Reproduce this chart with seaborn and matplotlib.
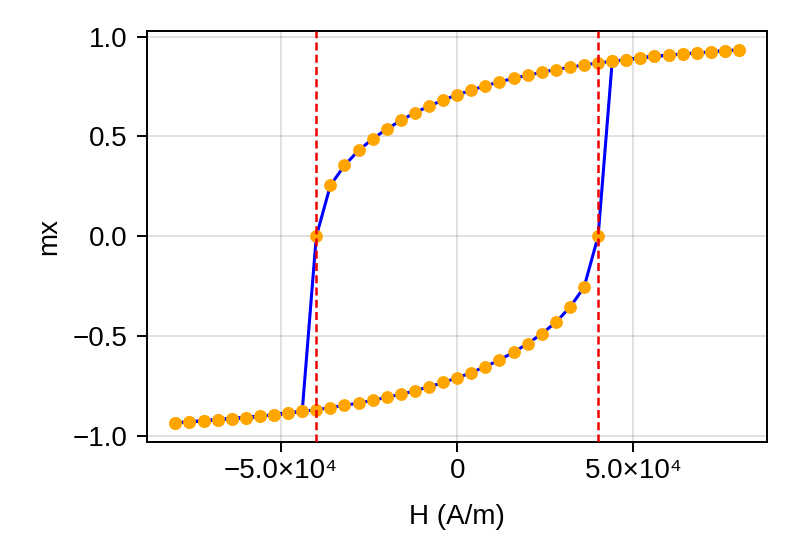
import numpy as np
import pandas as pd
import matplotlib
matplotlib.use('Agg')
import matplotlib.pyplot as plt
import seaborn as sns

sns.set_style('white')
plt.rcParams['font.family'] = ['Liberation Sans', 'DejaVu Sans']
plt.rcParams.update({'text.color': 'black', 'axes.labelcolor': 'black',
                     'xtick.color': 'black', 'ytick.color': 'black'})

# applied field grid (A/m)
H = np.arange(-80000, 80001, 4000)

# mx while sweeping H upwards (one value per H, ascending)
mx_up = [-0.933, -0.929, -0.923, -0.918, -0.913, -0.907, -0.901, -0.893, -0.885,
         -0.876, -0.868, -0.858, -0.846, -0.835, -0.821, -0.806, -0.791, -0.773,
         -0.754, -0.731, -0.709, -0.682, -0.652, -0.619, -0.580, -0.537, -0.488,
         -0.430, -0.355, -0.255, 0.0, 0.876, 0.885, 0.893, 0.901, 0.907, 0.913,
         0.918, 0.923, 0.929, 0.933]

# mx while sweeping H downwards (still listed for ascending H)
mx_down = [-0.933, -0.929, -0.923, -0.918, -0.913, -0.907, -0.901, -0.893, -0.885,
           -0.876, 0.0, 0.255, 0.355, 0.430, 0.488, 0.537, 0.580, 0.619, 0.652,
           0.682, 0.709, 0.731, 0.754, 0.773, 0.791, 0.806, 0.821, 0.835, 0.846,
           0.858, 0.868, 0.876, 0.885, 0.893, 0.901, 0.907, 0.913, 0.918, 0.923,
           0.929, 0.933]

Hc = [-40000, 40000]
xticks = [-50000, 0, 50000]
xticklabels = ['\u22125.0\u00d710\u2074', '0', '5.0\u00d710\u2074']
yticks = [-1.0, -0.5, 0.0, 0.5, 1.0]
yticklabels = ['\u22121.0', '\u22120.5', '0.0', '0.5', '1.0']

loop = pd.DataFrame({
    'H': np.concatenate([H, H[::-1]]),
    'mx': np.concatenate([mx_up, mx_down[::-1]]),
})

fig = plt.figure(figsize=(8, 5.6), dpi=100)
ax = fig.add_axes([0.184, 0.2116, 0.775, 0.7327])

sns.lineplot(data=loop, x='H', y='mx', sort=False, estimator=None,
             color='#0000ff', linewidth=2.2, ax=ax, zorder=3)
sns.scatterplot(data=loop, x='H', y='mx', color='#ffa500', s=85,
                linewidth=0, ax=ax, zorder=4)
for h in Hc:
    ax.axvline(h, color='#ee0000', linewidth=1.8, linestyle=(0, (3.2, 1.7)),
               zorder=5)

ax.set_xlim(-88000, 88000)
ax.set_ylim(-1.027, 1.027)
ax.set_xticks(xticks)
ax.set_xticklabels(xticklabels)
ax.set_yticks(yticks)
ax.set_yticklabels(yticklabels)
ax.grid(True, color='black', alpha=0.12, linewidth=1.4)
ax.set_axisbelow(True)
for s in ax.spines.values():
    s.set_linewidth(1.4)
    s.set_color('black')
ax.tick_params(axis='both', direction='out', length=7, width=1.4,
               labelsize=20)
ax.tick_params(axis='x', pad=5, bottom=True, top=False)
ax.tick_params(axis='y', pad=7, left=True, right=False)
ax.set_xlabel('H (A/m)', fontsize=20, labelpad=14)
ax.set_ylabel('mx', fontsize=20, labelpad=8)

fig.savefig('out.png', dpi=100)
